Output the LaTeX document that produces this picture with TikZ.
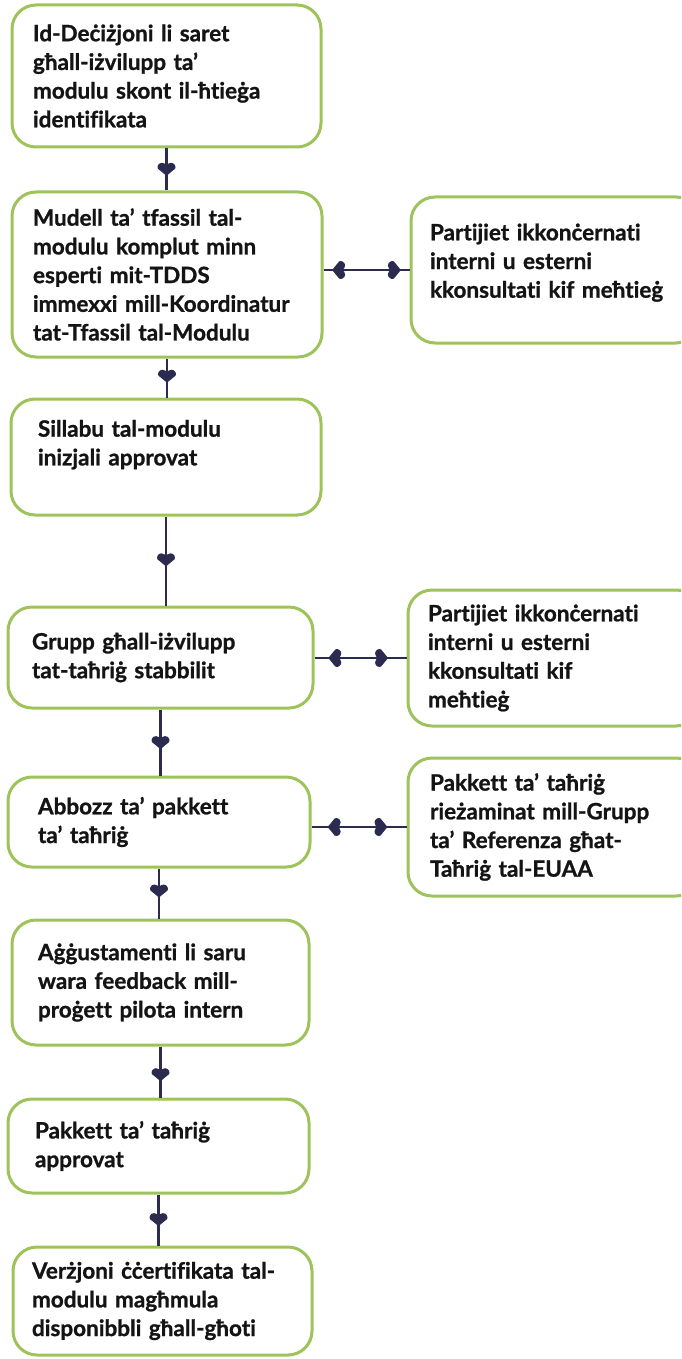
\documentclass[tikz,border=0pt]{standalone}
\usepackage{fontspec}
\setmainfont{Lato}[Ligatures = NoCommon, BoldFeatures = {FakeBold = 1}]
\usetikzlibrary{positioning}
\definecolor{boxgreen}{HTML}{9DC35A}
\definecolor{linknavy}{HTML}{2B2B4F}

\begin{document}
\begin{tikzpicture}[x = 1pt, y = -1pt,
    stage/.style n args = {3}{ draw = boxgreen, line width = 3pt, rounded corners = 24pt, fill = white, minimum width = #1pt, minimum height = #2pt, text width = #3pt, align = left, text = black!92, font = \bfseries\fontsize{22.5}{28.7}\selectfont },
    link/.style = { draw = linknavy, line width = 2.2pt },
    heart/.pic = { \fill [linknavy] (0,0) -- (8.5,-7) .. controls (10,-9) and (8,-13) .. (4.5,-13) .. controls (2,-13) and (0.5,-11.5) .. (0,-9.5) .. controls (-0.5,-11.5) and (-2,-13) .. (-4.5,-13) .. controls (-8,-13) and (-10,-9) .. (-8.5,-7) -- cycle; }]
				\useasboundingbox (0,0) rectangle (681,1359);
				\clip (0,0) rectangle (681,1359);

				\node [stage = {309}{142}{267}] (b1) at (166.5,76) {Id-Deċiżjoni li saret\\għall-iżvilupp ta’\\modulu skont il-ħtieġa\\identifikata};
				\node [stage = {310}{165}{268}] (b2) at (167,274.5) {Mudell ta’ tfassil tal-\\modulu komplut minn\\esperti mit-TDDS\\immexxi mill-Koordinatur\\tat-Tfassil tal-Modulu};
				\node [stage = {310}{116}{256}] (b3) at (166,457) {Sillabu tal-modulu\\inizjali approvat\\\mbox{}};
				\node [stage = {305}{101}{257}] (b4) at (160.5,657.5) {Grupp għall-iżvilupp\\tat-taħriġ stabbilit};
				\node [stage = {302}{90}{242}] (b5) at (159,822) {Abbozz ta’ pakkett\\ta’ taħriġ};
				\node [stage = {297}{125}{245}] (b6) at (160.5,982.5) {Aġġustamenti li saru\\wara feedback mill-\\proġett pilota intern};
				\node [stage = {301}{94}{247}] (b7) at (158.5,1146) {Pakkett ta’ taħriġ\\approvat};
				\node [stage = {299}{108}{261}] (b8) at (162.5,1301) {Verżjoni ċċertifikata tal-\\modulu magħmula\\disponibbli għall-għoti};

				\node [stage = {289}{146}{251}] (r1) at (555.5,270) {Partijiet ikkonċernati\\interni u esterni\\kkonsultati kif meħtieġ\\[-10pt]\mbox{}};
				\node [stage = {292}{136}{252}] (r2) at (554,658) {Partijiet ikkonċernati\\interni u esterni\\kkonsultati kif\\meħtieġ};
				\node [stage = {292}{138}{248}] (r3) at (554,827) {Pakkett ta’ taħriġ\\rieżaminat mill-Grupp\\ta’ Referenza għat-\\Taħriġ tal-EUAA};

				% vertical links, head part way down
				\draw [link] (b1.south) -- (b1.south |- b2.north) coordinate [pos = 0.65] (h1);
				\draw [link] (b2.south) -- (b2.south |- b3.north) coordinate [pos = 0.62] (h2);
				\draw [link] (b3.south) -- (b3.south |- b4.north) coordinate [pos = 0.56] (h3);
				\draw [link] (b4.south) -- (b4.south |- b5.north) coordinate [pos = 0.6] (h4);
				\draw [link] (b5.south) -- (b5.south |- b6.north) coordinate [pos = 0.58] (h5);
				\draw [link] (b6.south) -- (b6.south |- b7.north) coordinate [pos = 0.68] (h6);
				\draw [link] (b7.south) -- (b7.south |- b8.north) coordinate [pos = 0.62] (h7);
				\foreach \h in {h1, h2, h3, h4, h5, h6, h7}
					\pic at (\h) {heart};

				% side links, heads at both ends
				\draw [link] (r1.west -| b2.east) -- (r1.west) coordinate [pos = 0.1] (s1a) coordinate [pos = 0.9] (s1b);
				\draw [link] (r2.west -| b4.east) -- (r2.west) coordinate [pos = 0.15] (s2a) coordinate [pos = 0.8] (s2b);
				\draw [link] (r3.west -| b5.east) -- (r3.west) coordinate [pos = 0.17] (s3a) coordinate [pos = 0.8] (s3b);
				\foreach \s in {s1, s2, s3} {
					\pic [rotate = -90] at (\s a) {heart};
					\pic [rotate = 90] at (\s b) {heart};
				}
			\end{tikzpicture}
\end{document}
